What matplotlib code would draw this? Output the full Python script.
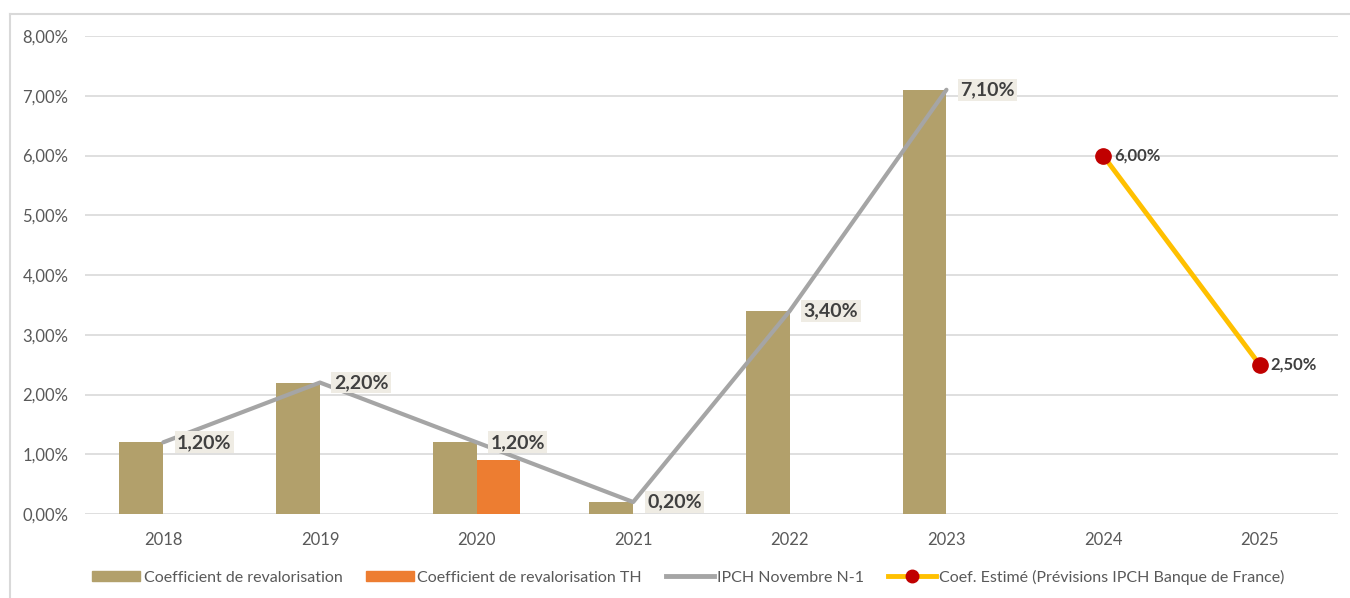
import numpy as np
import matplotlib.pyplot as plt
from matplotlib.lines import Line2D
from matplotlib.patches import Patch

plt.rcParams['font.family'] = ['Lato', 'DejaVu Sans']

annees = ['2018', '2019', '2020', '2021', '2022', '2023', '2024', '2025']
coef_reval = [1.2, 2.2, 1.2, 0.2, 3.4, 7.1]
coef_th = [0, 0, 0.9, 0, 0, 0]
ipch = [1.2, 2.2, 1.2, 0.2, 3.4, 7.1]
coef_estime = [6.0, 2.5]

def fmt(v):
    return ('%.2f%%' % v).replace('.', ',')

fig = plt.figure(figsize=(13.5, 5.98), dpi=100)
ax = fig.add_axes([85/1350, 1-514/598, (1338-85)/1350, (514-36)/598])

x = np.arange(len(annees))
xb = x[:6]
w = 0.28
ax.bar(xb - w/2, coef_reval, w, color='#B2A06B', zorder=2)
ax.bar(xb + w/2, coef_th, w, color='#ED7D31', zorder=2)
ax.plot(xb, ipch, color='#A5A5A5', lw=3, zorder=3, solid_capstyle='round')
ax.plot(x[6:], coef_estime, color='#FFC000', lw=3.5, zorder=3)
ax.plot(x[6:], coef_estime, 'o', color='#C00000', ms=11, zorder=4)

for xi, v in zip(xb, ipch):
    ax.annotate(fmt(v), (xi, v), xytext=(10, 0), textcoords='offset points',
                va='center', ha='left', fontsize=14, fontweight='bold', color='#404040',
                bbox=dict(boxstyle='square,pad=0.12', fc='#EFECE4', ec='none'), zorder=5)
for xi, v in zip(x[6:], coef_estime):
    ax.annotate(fmt(v), (xi, v), xytext=(8, 0), textcoords='offset points',
                va='center', ha='left', fontsize=12, fontweight='bold', color='#404040', zorder=5)

ax.set_xlim(-0.5, 7.5)
ax.set_ylim(0, 8)
ax.set_yticks(np.arange(0, 9, 1))
ax.set_yticklabels([fmt(v) for v in range(9)])
ax.set_xticks(x)
ax.set_xticklabels(annees)
ax.tick_params(length=0, labelsize=12, labelcolor='#595959')
ax.tick_params(axis='y', pad=12)
ax.tick_params(axis='x', pad=13)
ax.grid(axis='y', color='#D9D9D9', lw=1.2, zorder=0)
for s in ax.spines.values():
    s.set_visible(False)

handles = [Patch(color='#B2A06B'), Patch(color='#ED7D31'),
           Line2D([], [], color='#A5A5A5', lw=3.5),
           Line2D([], [], color='#FFC000', lw=3.5, marker='o', mfc='#C00000', mec='#C00000', ms=9)]
labels = ['Coefficient de revalorisation', 'Coefficient de revalorisation TH',
          'IPCH Novembre N-1', 'Coef. Estimé (Prévisions IPCH Banque de France)']
fig.legend(handles, labels, loc='center', bbox_to_anchor=(0.51, 1-577/598), ncol=4,
           frameon=False, fontsize=11.5, labelcolor='#595959', handlelength=3,
           handleheight=0.6, handletextpad=0.2, columnspacing=1.5)

# cadre gris autour du graphique
fig.add_artist(Line2D([10/1350, 10/1350], [0, 1-14/598], color='#D9D9D9', lw=1.5))
fig.add_artist(Line2D([10/1350, 1], [1-14/598, 1-14/598], color='#D9D9D9', lw=1.5))

fig.savefig('out.png', dpi=100)
